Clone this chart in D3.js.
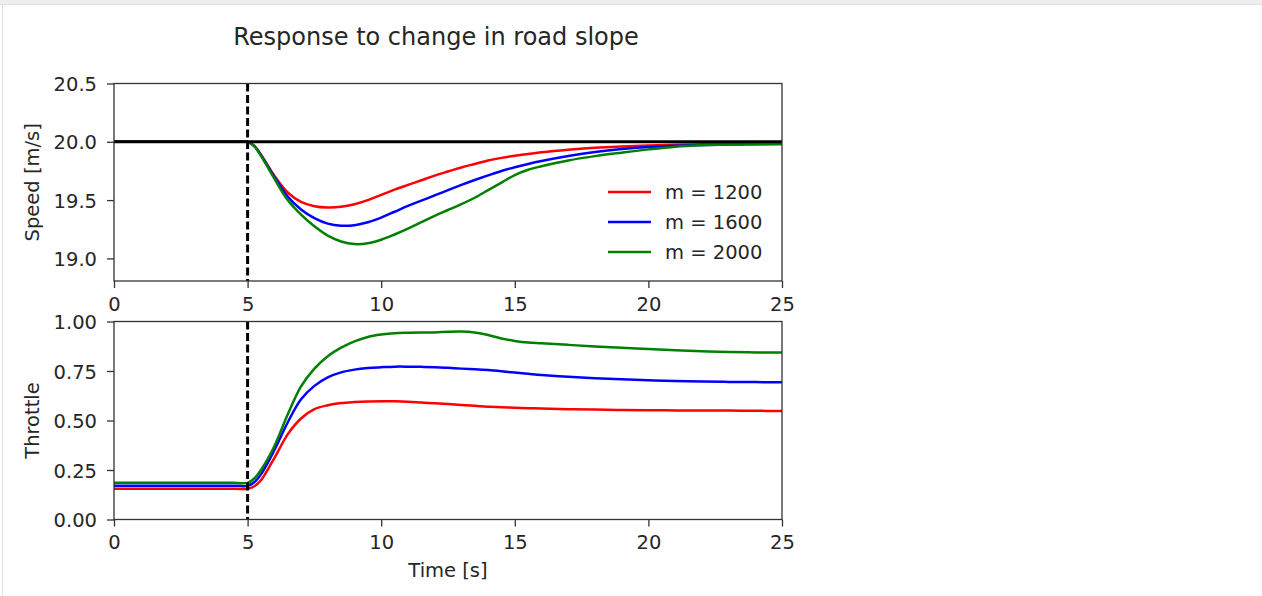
<!DOCTYPE html>
<html>
<head>
<meta charset="utf-8">
<script src="https://cdn.jsdelivr.net/npm/d3@7"></script>
<style>
  body { margin: 0; background: #fff; }
  #frame { position: absolute; left: 0; top: 0; width: 1262px; height: 596px; }
  #frame .topbar { position: absolute; left: 0; top: 0; width: 1262px; height: 4px; background: #eeeeee; border-bottom: 1px solid #e0e0e0; }
  #frame .leftbar { position: absolute; left: 2px; top: 5px; width: 1px; height: 591px; background: #e0e0e0; }
  svg { position: absolute; left: 0; top: 0; }
  text { font-family: "DejaVu Sans", sans-serif; fill: #262626; }
  .tick text { font-size: 19.5px; fill: #262626; }
  .tick line { stroke: #333; stroke-width: 1.3; }
</style>
</head>
<body>
<div id="frame"><div class="topbar"></div><div class="leftbar"></div></div>
<div id="chart"></div>
<script>
// time grid (s)
var time = [0, 4.5, 5, 5.25, 5.5, 6, 6.5, 7, 7.5, 8, 8.5, 9, 9.5, 10, 10.5, 11, 11.5, 12, 12.5,
  13, 13.5, 14, 14.5, 15, 15.5, 16, 17, 18, 19, 20, 21, 22, 23, 24, 25];

var masses = ["m = 1200", "m = 1600", "m = 2000"];
var colors = ["#ff0000", "#0000ff", "#008000"];

// speed [m/s]
var speed1200 = [20, 20, 20, 19.965, 19.89, 19.71, 19.565, 19.485, 19.448, 19.437, 19.443, 19.465, 19.5,
  19.545, 19.59, 19.63, 19.67, 19.71, 19.745, 19.78, 19.81, 19.84, 19.862, 19.88, 19.895, 19.91,
  19.932, 19.948, 19.96, 19.968, 19.974, 19.978, 19.981, 19.983, 19.984];
var speed1600 = [20, 20, 20, 19.963, 19.885, 19.7, 19.53, 19.42, 19.345, 19.298, 19.28, 19.285, 19.31,
  19.35, 19.4, 19.45, 19.495, 19.54, 19.585, 19.63, 19.672, 19.712, 19.75, 19.782, 19.81, 19.835,
  19.878, 19.913, 19.938, 19.955, 19.966, 19.973, 19.977, 19.98, 19.982];
var speed2000 = [20, 20, 20, 19.962, 19.88, 19.685, 19.5, 19.375, 19.275, 19.195, 19.145, 19.123, 19.13,
  19.16, 19.205, 19.255, 19.31, 19.365, 19.415, 19.465, 19.52, 19.585, 19.65, 19.715, 19.76, 19.79,
  19.84, 19.877, 19.907, 19.935, 19.958, 19.97, 19.976, 19.979, 19.981];

// throttle
var throttle1200 = [0.155, 0.155, 0.155, 0.168, 0.198, 0.31, 0.43, 0.51, 0.557, 0.577, 0.588, 0.593, 0.596,
  0.597, 0.597, 0.595, 0.591, 0.587, 0.583, 0.578, 0.574, 0.57, 0.567, 0.565, 0.562, 0.56,
  0.557, 0.555, 0.553, 0.552, 0.551, 0.551, 0.55, 0.549, 0.548];
var throttle1600 = [0.17, 0.17, 0.17, 0.188, 0.228, 0.35, 0.49, 0.607, 0.675, 0.718, 0.743, 0.757, 0.765,
  0.769, 0.772, 0.772, 0.771, 0.769, 0.766, 0.762, 0.759, 0.755, 0.749, 0.742, 0.736, 0.73,
  0.721, 0.714, 0.708, 0.703, 0.699, 0.697, 0.695, 0.694, 0.693];
var throttle2000 = [0.185, 0.185, 0.185, 0.207, 0.25, 0.37, 0.53, 0.672, 0.762, 0.825, 0.868, 0.9, 0.922,
  0.934, 0.941, 0.943, 0.944, 0.945, 0.948, 0.949, 0.944, 0.932, 0.914, 0.902, 0.894, 0.89,
  0.882, 0.874, 0.867, 0.861, 0.855, 0.85, 0.846, 0.844, 0.843];

var vref = 20;      // reference speed
var tSlope = 5;     // time of slope change

var xTicks = [0, 5, 10, 15, 20, 25];
var speedTicks = [19.0, 19.5, 20.0, 20.5];
var throttleTicks = [0, 0.25, 0.5, 0.75, 1.0];

var speedSeries = [speed1200, speed1600, speed2000];
var throttleSeries = [throttle1200, throttle1600, throttle2000];

var width = 1262, height = 596;
var svg = d3.select("#chart").append("svg").attr("width", width).attr("height", height);

var x = d3.scaleLinear().domain([0, 25]).range([114, 782]);
var ySpeed = d3.scaleLinear().domain([18.806, 20.5]).range([281, 83.5]);
var yThrottle = d3.scaleLinear().domain([0, 1]).range([519.5, 321.5]);

function drawPanel(y, series, ticks, fmt, label, hline) {
  var y0 = y.range()[0], y1 = y.range()[1];
  var g = svg.append("g");
  var clipId = "clip" + Math.round(y0);
  g.append("clipPath").attr("id", clipId).append("rect")
    .attr("x", x.range()[0]).attr("y", y1)
    .attr("width", x.range()[1] - x.range()[0]).attr("height", y0 - y1);
  var plot = g.append("g").attr("clip-path", "url(#" + clipId + ")");

  var line = d3.line()
    .x(function (d, i) { return x(time[i]); })
    .y(function (d) { return y(d); })
    .curve(d3.curveCatmullRom.alpha(0.5));

  series.forEach(function (s, k) {
    plot.append("path")
      .attr("d", line(s))
      .attr("fill", "none")
      .attr("stroke", colors[k])
      .attr("stroke-width", 2.5);
  });

  if (hline !== null) {
    plot.append("line")
      .attr("x1", x.range()[0]).attr("x2", x.range()[1])
      .attr("y1", y(hline)).attr("y2", y(hline))
      .attr("stroke", "#000").attr("stroke-width", 3);
  }
  plot.append("line")
    .attr("x1", x(tSlope)).attr("x2", x(tSlope))
    .attr("y1", y1).attr("y2", y0)
    .attr("stroke", "#000").attr("stroke-width", 3)
    .attr("stroke-dasharray", "8,3.5");

  // frame
  g.append("rect")
    .attr("x", x.range()[0]).attr("y", y1)
    .attr("width", x.range()[1] - x.range()[0]).attr("height", y0 - y1)
    .attr("fill", "none").attr("stroke", "#333").attr("stroke-width", 1.3);

  var gx = g.append("g").attr("transform", "translate(0," + y0 + ")")
    .call(d3.axisBottom(x).tickValues(xTicks).tickSize(7).tickPadding(9).tickFormat(d3.format("d")));
  var gy = g.append("g").attr("transform", "translate(" + x.range()[0] + ",0)")
    .call(d3.axisLeft(y).tickValues(ticks).tickSize(7).tickPadding(10).tickFormat(d3.format(fmt)));
  gx.select(".domain").remove();
  gy.select(".domain").remove();
  gy.selectAll(".tick text").attr("dy", "0.36em");
  gx.attr("font-size", null).attr("font-family", null);
  gy.attr("font-size", null).attr("font-family", null);

  svg.append("text")
    .text(label)
    .attr("transform", "translate(39," + (y0 + y1) / 2 + ") rotate(-90)")
    .attr("text-anchor", "middle")
    .style("font-size", "19.5px");
  return g;
}

drawPanel(ySpeed, speedSeries, speedTicks, ".1f", "Speed [m/s]", vref);
drawPanel(yThrottle, throttleSeries, throttleTicks, ".2f", "Throttle", null);

// legend (lower right of the speed panel)
var legend = svg.append("g").attr("transform", "translate(" + (x.range()[1] - 174) + "," + (ySpeed.range()[0] - 89) + ")");
masses.forEach(function (m, k) {
  var row = legend.append("g").attr("transform", "translate(0," + k * 30 + ")");
  row.append("line").attr("x1", 0).attr("x2", 43).attr("y1", 0).attr("y2", 0)
    .attr("stroke", colors[k]).attr("stroke-width", 2.5);
  row.append("text").text(m).attr("x", 57).attr("y", 0).attr("dy", "0.36em")
    .style("font-size", "19.5px");
});

svg.append("text")
  .text("Response to change in road slope")
  .attr("x", 436).attr("y", 45)
  .attr("text-anchor", "middle")
  .style("font-size", "24px");

svg.append("text")
  .text("Time [s]")
  .attr("x", (x.range()[0] + x.range()[1]) / 2)
  .attr("y", 577)
  .attr("text-anchor", "middle")
  .style("font-size", "19.5px");
</script>
</body>
</html>
